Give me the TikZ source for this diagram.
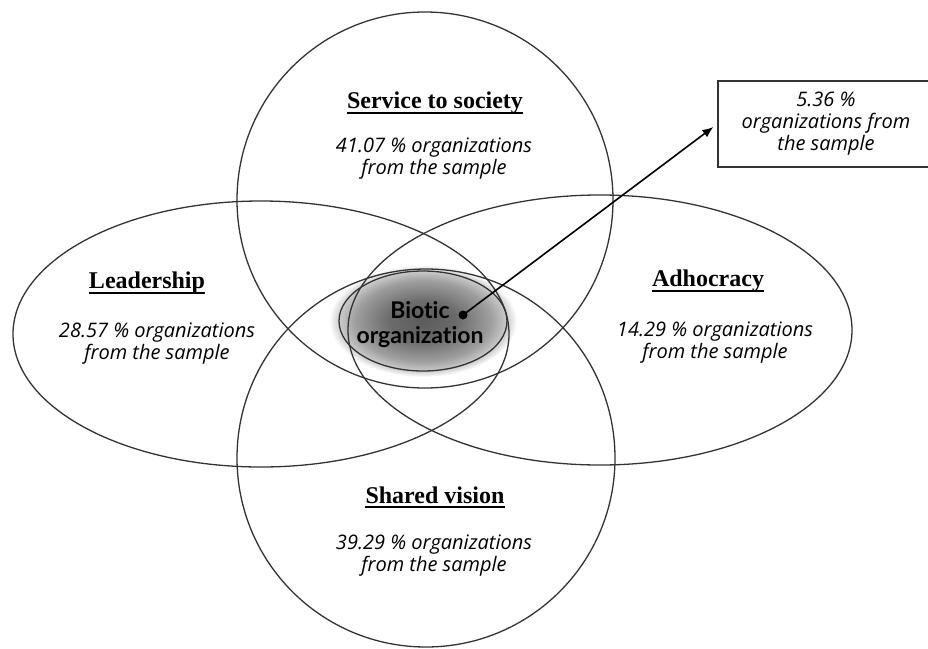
\documentclass[tikz,border=0pt]{standalone}
\usepackage{fontspec}
\setmainfont{Liberation Serif}
\newfontfamily\sharefont[Ligatures=NoCommon]{Open Sans}
\newfontfamily\bioticfont[Ligatures=NoCommon]{Lato}
\usetikzlibrary{arrows.meta}

\pgfdeclareradialshading{bioticglow}{\pgfpoint{0bp}{0bp}}{%
  color(0bp)=(black!64); color(9bp)=(black!58); color(18bp)=(black!38);
  color(22bp)=(black!22); color(25bp)=(white); color(50bp)=(white)}

\tikzset{
  setline/.style={draw=black!80, line width=1.3pt},
  heading/.style={inner sep=0pt, font=\fontsize{24}{28}\selectfont\bfseries},
  underline/.style={line width=1.8pt},
  share/.style={font=\sharefont\itshape\fontsize{20}{22}\selectfont, align=center},
}

\begin{document}
\begin{tikzpicture}[x=1pt,y=-1pt]
    \useasboundingbox (0,0) rectangle (928,648);
    \clip (0,0) rectangle (928,648);

    % biotic organization, shaded core
    \shade[shading=bioticglow] (423,321) ellipse (94 and 56);

    % the four sets
    \draw[setline] (425,200) circle (188);
    \draw[setline] (426,458) circle (189);
    \draw[setline] (261,334) ellipse (248 and 133);
    \draw[setline] (600,330) ellipse (252 and 135);
    \draw[setline] (423,321) ellipse (84 and 50);

    \node[heading] (service) at (435,103) {Service to society};
    \node[share] (serviceshare) at (434,159) {41.07 \% organizations\\from the sample};

    \node[heading] (leader) at (147,283) {Leadership};
    \node[share] (leadershare) at (157,344) {28.57 \% organizations\\from the sample};

    \node[heading] (adhoc) at (708,281) {Adhocracy};
    \node[share] (adhocshare) at (715,343) {14.29 \% organizations\\from the sample};

    \node[heading] (vision) at (435,495) {Shared vision};
    \node[share] (visionshare) at (434,556) {39.29 \% organizations\\from the sample};

    \foreach \h in {service,leader,adhoc,vision}
        \draw[underline] ([yshift=-4pt]\h.base west) -- ([yshift=-4pt]\h.base east);

    \node[font=\bioticfont\bfseries\fontsize{23}{25}\selectfont, align=center] (biotic) at (420,325) {Biotic\\organization};
    \coordinate (core) at (463,315);
    \fill (core) circle (4.5);

    % the share of all four
    \node[draw=black!80, line width=1.3pt, minimum width=216, minimum height=86, share] (all) at (826,124) {5.36 \%\\organizations from\\the sample};
    \draw[line width=1.6pt, -{Latex[length=11pt,width=9pt]}, shorten >=5pt] (core) -- (all.west);
\end{tikzpicture}
\end{document}
